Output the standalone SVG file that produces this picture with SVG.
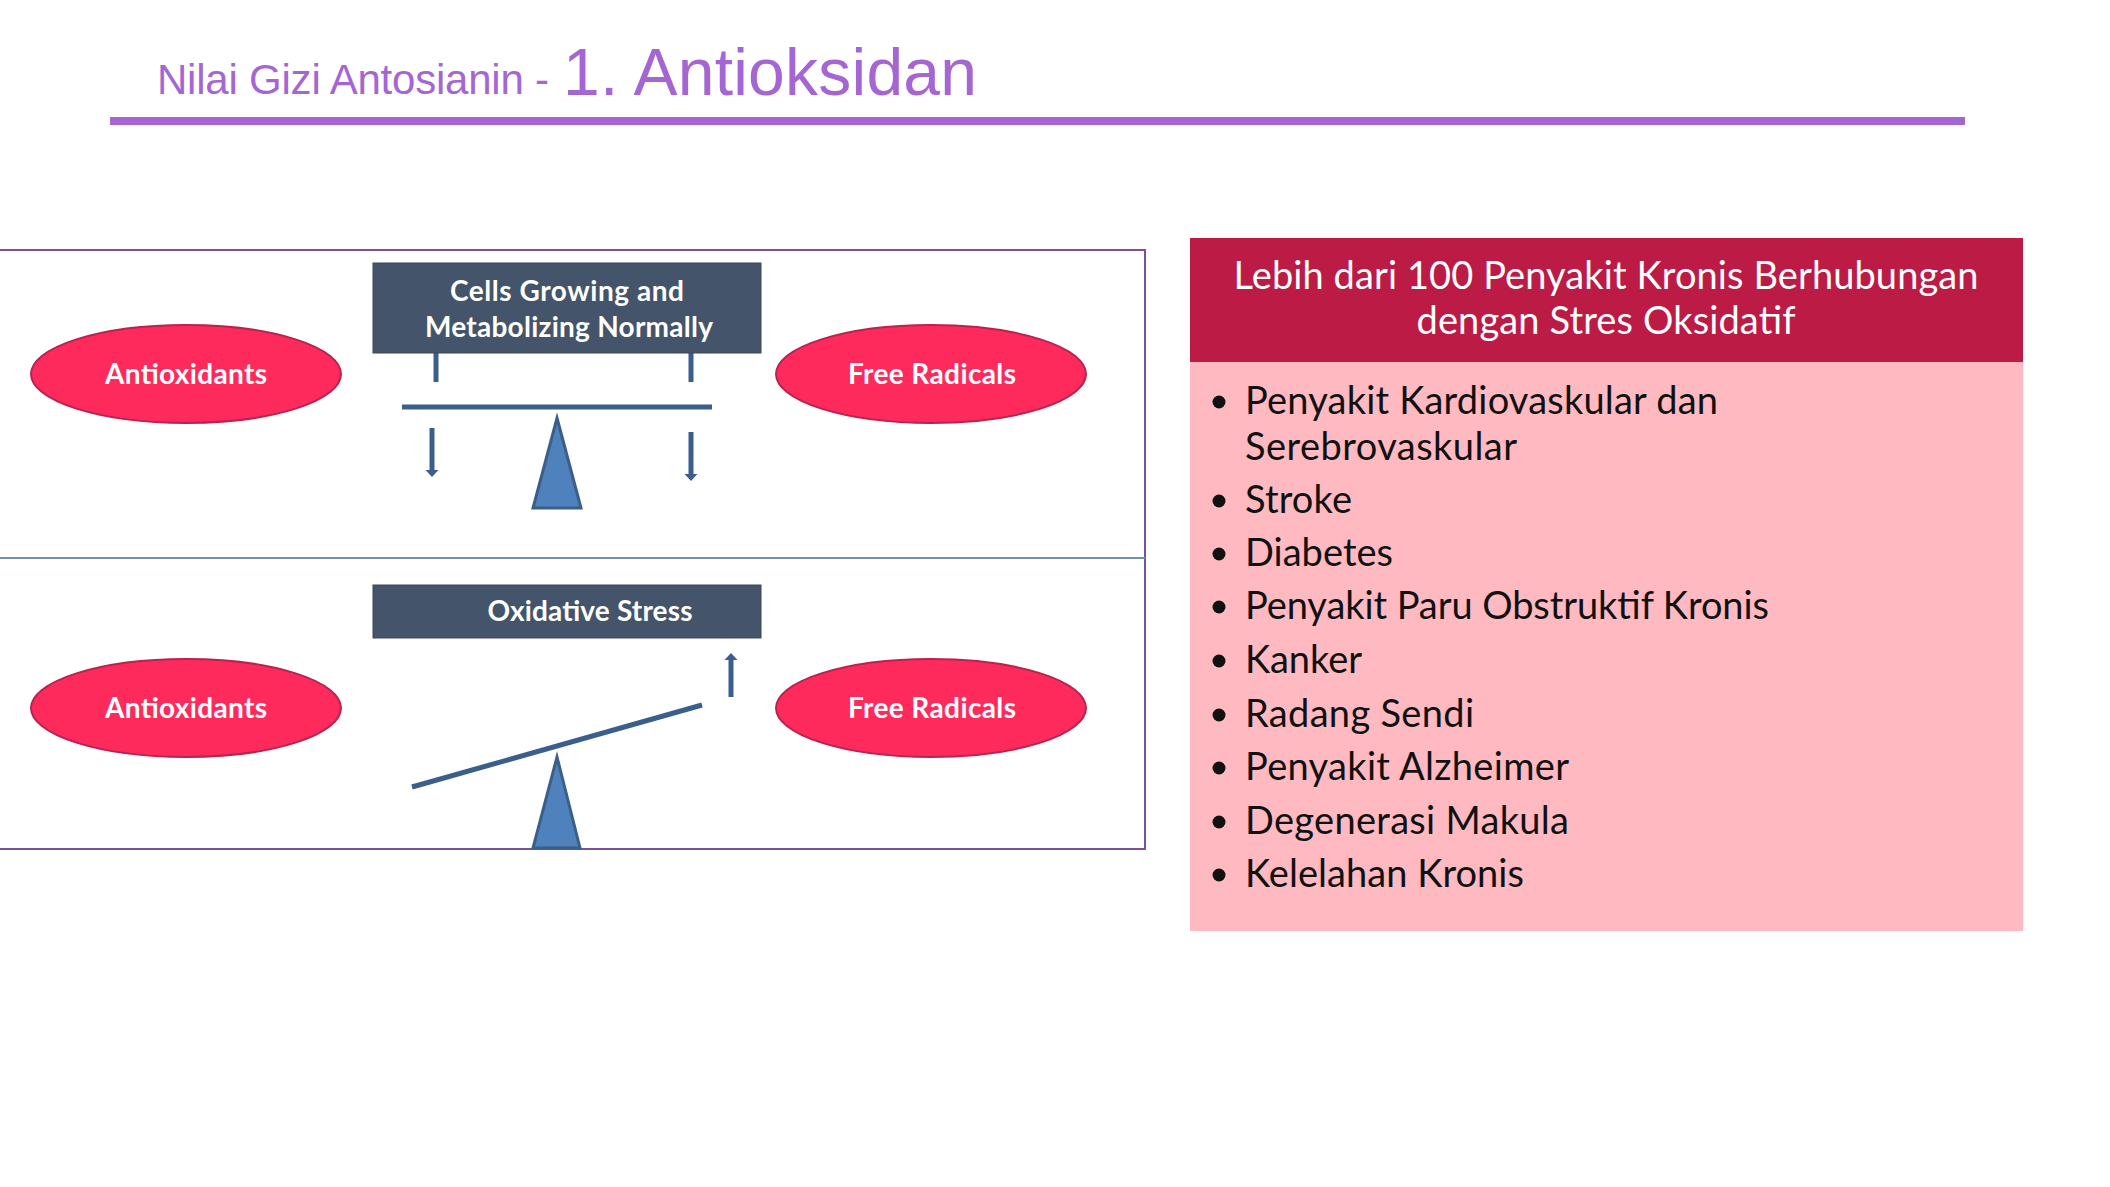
<svg xmlns="http://www.w3.org/2000/svg" width="2110" height="1187" viewBox="0 0 2110 1187">
<defs>
<style>
.title{font-family:"Liberation Sans",Arial,sans-serif;fill:#A566D4}
.oval{fill:#FF2A5C;stroke:#B8234F;stroke-width:2}
.ovaltxt{font-family:Lato,"Liberation Sans",sans-serif;font-weight:bold;font-size:28px;fill:#FFFFFF;text-anchor:middle}
.box{fill:#44546A;stroke:#3A4759;stroke-width:1}
.boxtxt{font-family:Lato,"Liberation Sans",sans-serif;font-weight:bold;font-size:28px;fill:#FFFFFF;text-anchor:middle}
.fulcrum{fill:#4F81BD;stroke:#3A5F8B;stroke-width:3;stroke-linejoin:miter}
.bar{stroke:#3B5E8C;stroke-width:5;fill:none}
.arrow{stroke:#3B5E8C;stroke-width:5;fill:none}
.head{fill:#3B5E8C}
.hdrtxt{font-family:Lato,"Liberation Sans",sans-serif;font-size:38px;fill:#FFFFFF;text-anchor:middle}
.item{font-family:Lato,"Liberation Sans",sans-serif;font-size:38px;fill:#111111}
.dot{fill:#111111}
</style>
</defs>
<rect x="0" y="0" width="2110" height="1187" fill="#FFFFFF"/>

<g id="title">
<text class="title" x="157" y="94" font-size="42" textLength="392">Nilai Gizi Antosianin -</text>
<text class="title" x="563" y="95" font-size="66" textLength="414">1. Antioksidan</text>
<rect x="110" y="117" width="1855" height="8" fill="#A566D4"/>
</g>

<g id="panel">
<path d="M0,250 L1145,250 L1145,849 L0,849" fill="none" stroke="#7B4F9E" stroke-width="2"/>
<line x1="0" y1="558" x2="1145" y2="558" stroke="#6F8FB5" stroke-width="2"/>
</g>

<g id="connectors">
<line class="bar" x1="436" y1="353" x2="436" y2="382"/>
<line class="bar" x1="691" y1="353" x2="691" y2="382"/>
<line class="bar" x1="402" y1="407" x2="712" y2="407"/>
<line class="arrow" x1="432" y1="428" x2="432" y2="471"/>
<path class="head" d="M425.5,470 L438.5,470 L432,477 Z"/>
<line class="arrow" x1="691" y1="432" x2="691" y2="475"/>
<path class="head" d="M684.5,474 L697.5,474 L691,481 Z"/>
<line class="bar" x1="412" y1="787" x2="702" y2="705"/>
<line class="arrow" x1="731" y1="697" x2="731" y2="659"/>
<path class="head" d="M724.5,660 L737.5,660 L731,653 Z"/>
</g>

<g id="fulcrum-top">
<path class="fulcrum" d="M557,418 L581,508 L533,508 Z"/>
</g>
<g id="fulcrum-bottom">
<path class="fulcrum" d="M557,757 L580,848 L533,848 Z"/>
</g>

<g id="box-normal">
<rect class="box" x="373" y="263" width="388" height="90"/>
<text class="boxtxt" x="567" y="301" textLength="234">Cells Growing and</text>
<text class="boxtxt" x="569" y="337" textLength="288">Metabolizing Normally</text>
</g>

<g id="box-stress">
<rect class="box" x="373" y="585" width="388" height="53"/>
<text class="boxtxt" x="590" y="621" textLength="205">Oxidative Stress</text>
</g>

<g id="antioxidants-top">
<ellipse class="oval" cx="186" cy="374" rx="155" ry="49"/>
<text class="ovaltxt" x="186" y="384" textLength="162">Antioxidants</text>
</g>
<g id="radicals-top">
<ellipse class="oval" cx="931" cy="374" rx="155" ry="49"/>
<text class="ovaltxt" x="932" y="384" textLength="168">Free Radicals</text>
</g>
<g id="antioxidants-bottom">
<ellipse class="oval" cx="186" cy="708" rx="155" ry="49"/>
<text class="ovaltxt" x="186" y="718" textLength="162">Antioxidants</text>
</g>
<g id="radicals-bottom">
<ellipse class="oval" cx="931" cy="708" rx="155" ry="49"/>
<text class="ovaltxt" x="932" y="718" textLength="168">Free Radicals</text>
</g>

<g id="disease-list">
<rect x="1190" y="238" width="833" height="124" fill="#BC1B45"/>
<rect x="1190" y="362" width="833" height="569" fill="#FFB9C1"/>
<text class="hdrtxt" x="1606" y="289" textLength="745">Lebih dari 100 Penyakit Kronis Berhubungan</text>
<text class="hdrtxt" x="1606" y="334" textLength="379">dengan Stres Oksidatif</text>
<circle class="dot" cx="1219" cy="402" r="6.5"/>
<text class="item" x="1245" y="414" textLength="473">Penyakit Kardiovaskular dan</text>
<text class="item" x="1245" y="460" textLength="272">Serebrovaskular</text>
<circle class="dot" cx="1219" cy="501" r="6.5"/>
<text class="item" x="1245" y="513" textLength="107">Stroke</text>
<circle class="dot" cx="1219" cy="554" r="6.5"/>
<text class="item" x="1245" y="566" textLength="148">Diabetes</text>
<circle class="dot" cx="1219" cy="607" r="6.5"/>
<text class="item" x="1245" y="619" textLength="524">Penyakit Paru Obstruktif Kronis</text>
<circle class="dot" cx="1219" cy="661" r="6.5"/>
<text class="item" x="1245" y="673" textLength="117">Kanker</text>
<circle class="dot" cx="1219" cy="715" r="6.5"/>
<text class="item" x="1245" y="727" textLength="229">Radang Sendi</text>
<circle class="dot" cx="1219" cy="768" r="6.5"/>
<text class="item" x="1245" y="780" textLength="324">Penyakit Alzheimer</text>
<circle class="dot" cx="1219" cy="822" r="6.5"/>
<text class="item" x="1245" y="834" textLength="324">Degenerasi Makula</text>
<circle class="dot" cx="1219" cy="875" r="6.5"/>
<text class="item" x="1245" y="887" textLength="279">Kelelahan Kronis</text>
</g>
</svg>
